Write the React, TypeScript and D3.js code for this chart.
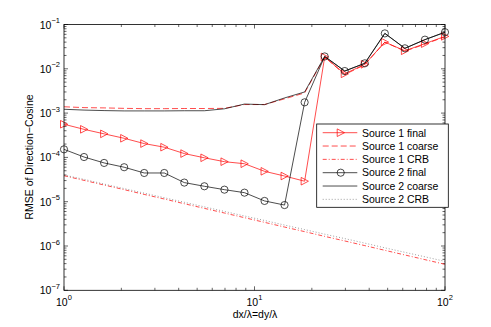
import React, { useEffect, useRef } from 'react';
import * as d3 from 'd3';

// grid spacing (logspace 1..100, 20 points)
const xVals = [1, 1.274, 1.624, 2.069, 2.637, 3.36, 4.281, 5.456, 6.952, 8.859, 11.29, 14.38, 18.33, 23.36, 29.76, 37.93, 48.33, 61.58, 78.48, 100];

const src1Final = [5.6e-4, 4.3e-4, 3.4e-4, 2.7e-4, 2.05e-4, 1.7e-4, 1.22e-4, 9.8e-5, 8.0e-5, 7.2e-5, 4.85e-5, 3.8e-5, 2.9e-5, 1.85e-2, 7.7e-3, 1.26e-2, 4.0e-2, 2.55e-2, 3.7e-2, 5.4e-2];
const src1Coarse = [1.39e-3, 1.33e-3, 1.31e-3, 1.28e-3, 1.26e-3, 1.26e-3, 1.27e-3, 1.27e-3, 1.28e-3, 1.56e-3, 1.56e-3, 2.1e-3, 2.85e-3, 1.85e-2, 7.4e-3, 1.24e-2, 4.0e-2, 2.5e-2, 3.6e-2, 5.3e-2];
const src1Crb = [3.86e-5, 3.03e-5, 2.38e-5, 1.87e-5, 1.46e-5, 1.15e-5, 9.0e-6, 7.07e-6, 5.55e-6, 4.36e-6, 3.42e-6, 2.68e-6, 2.11e-6, 1.65e-6, 1.3e-6, 1.02e-6, 7.99e-7, 6.27e-7, 4.92e-7, 3.86e-7];

const src2Final = [1.52e-4, 1.02e-4, 7.5e-5, 6.0e-5, 4.45e-5, 4.45e-5, 2.7e-5, 2.23e-5, 1.87e-5, 1.6e-5, 1.04e-5, 8.4e-6, 1.75e-3, 1.9e-2, 8.9e-3, 1.33e-2, 6.3e-2, 2.9e-2, 4.55e-2, 6.7e-2];
const src2Coarse = [1.22e-3, 1.17e-3, 1.14e-3, 1.12e-3, 1.12e-3, 1.12e-3, 1.13e-3, 1.13e-3, 1.25e-3, 1.6e-3, 1.55e-3, 2.2e-3, 3.0e-3, 1.9e-2, 8.9e-3, 1.33e-2, 6.3e-2, 2.9e-2, 4.55e-2, 6.7e-2];
const src2Crb = [4.0e-5, 3.2e-5, 2.5e-5, 1.98e-5, 1.56e-5, 1.23e-5, 9.7e-6, 7.65e-6, 6.03e-6, 4.76e-6, 3.77e-6, 2.97e-6, 2.35e-6, 1.85e-6, 1.47e-6, 1.16e-6, 9.1e-7, 7.2e-7, 5.7e-7, 4.5e-7];

const legendLabels = ['Source 1 final', 'Source 1 coarse', 'Source 1 CRB', 'Source 2 final', 'Source 2 coarse', 'Source 2 CRB'];

const App = () => {
  const ref = useRef<SVGSVGElement>(null);

  useEffect(() => {
    const svg = d3.select(ref.current);
    svg.selectAll('*').remove();

    const left = 64, right = 445, top = 24.5, bottom = 290.3;
    const x = d3.scaleLog().domain([1, 100]).range([left, right]);
    const y = d3.scaleLog().domain([1e-7, 1e-1]).range([bottom, top]);
    const font = 'Liberation Sans, Arial, Helvetica, sans-serif';

    const isMajor = (v: number) => Math.abs(Math.log10(v) - Math.round(Math.log10(v))) < 1e-6;

    // ticks
    const tg = svg.append('g').attr('stroke', '#000').attr('stroke-width', 0.6);
    x.ticks().forEach(v => {
      const len = isMajor(v) ? 4 : 2.5;
      tg.append('line').attr('x1', x(v)).attr('x2', x(v)).attr('y1', bottom).attr('y2', bottom - len);
      tg.append('line').attr('x1', x(v)).attr('x2', x(v)).attr('y1', top).attr('y2', top + len);
    });
    y.ticks().forEach(v => {
      const len = isMajor(v) ? 4 : 2.5;
      tg.append('line').attr('y1', y(v)).attr('y2', y(v)).attr('x1', left).attr('x2', left + len);
      tg.append('line').attr('y1', y(v)).attr('y2', y(v)).attr('x1', right).attr('x2', right - len);
    });

    // tick labels
    y.ticks().filter(isMajor).forEach(v => {
      const e = Math.round(Math.log10(v));
      const t = svg.append('text')
        .attr('x', 60).attr('y', y(v) + 4)
        .attr('text-anchor', 'end')
        .attr('font-family', font).attr('font-size', 10.5);
      t.append('tspan').text('10');
      t.append('tspan').attr('dy', -5.5).attr('font-size', 7.5).text(e < 0 ? '\u2212' + (-e) : String(e));
    });
    x.ticks().filter(isMajor).forEach(v => {
      const e = Math.round(Math.log10(v));
      const t = svg.append('text')
        .attr('x', x(v) - 8).attr('y', 305.5)
        .attr('font-family', font).attr('font-size', 10.5);
      t.append('tspan').text('10');
      t.append('tspan').attr('dy', -5.5).attr('font-size', 7.5).text(String(e));
    });

    svg.append('text')
      .attr('x', 255).attr('y', 318)
      .attr('text-anchor', 'middle')
      .attr('font-family', font).attr('font-size', 10.5)
      .text('dx/\u03bb=dy/\u03bb');
    svg.append('text')
      .attr('transform', 'translate(33,157) rotate(-90)')
      .attr('text-anchor', 'middle')
      .attr('font-family', font).attr('font-size', 10.5)
      .text('RMSE of Direction\u2212Cosine');

    const line = d3.line<number>().x((_, i) => x(xVals[i])).y(d => y(d));

    const series = [
      { data: src1Final, color: '#ff0000', dash: null, marker: 'tri' },
      { data: src1Coarse, color: '#ff0000', dash: '6,3', marker: null },
      { data: src1Crb, color: '#ff0000', dash: '4,2,1,2', marker: null },
      { data: src2Final, color: '#000000', dash: null, marker: 'circ' },
      { data: src2Coarse, color: '#000000', dash: null, marker: null },
      { data: src2Crb, color: '#777777', dash: '1,2', marker: null },
    ];

    const drawMarker = (g: any, m: string, cx: number, cy: number, color: string) => {
      if (m === 'tri') {
        g.append('path')
          .attr('d', `M${cx - 3.5},${cy - 3.8}L${cx + 3.8},${cy}L${cx - 3.5},${cy + 3.8}Z`)
          .attr('fill', 'none').attr('stroke', color).attr('stroke-width', 0.7);
      } else if (m === 'circ') {
        g.append('circle').attr('cx', cx).attr('cy', cy).attr('r', 3.6)
          .attr('fill', 'none').attr('stroke', color).attr('stroke-width', 0.7);
      }
    };

    const pg = svg.append('g');
    series.forEach(s => {
      const p = pg.append('path')
        .attr('d', line(s.data))
        .attr('fill', 'none')
        .attr('stroke', s.color)
        .attr('stroke-width', 0.7);
      if (s.dash) p.attr('stroke-dasharray', s.dash);
      if (s.marker) s.data.forEach((d, i) => drawMarker(pg, s.marker as string, x(xVals[i]), y(d), s.color));
    });

    // axes box
    svg.append('rect')
      .attr('x', left).attr('y', top)
      .attr('width', right - left).attr('height', bottom - top)
      .attr('fill', 'none').attr('stroke', '#000').attr('stroke-width', 0.8);

    // legend
    const lx = 316.7, ly = 124, lw = 131.6, lh = 83.3;
    const lg = svg.append('g');
    lg.append('rect').attr('x', lx).attr('y', ly).attr('width', lw).attr('height', lh)
      .attr('fill', '#fff').attr('stroke', '#000').attr('stroke-width', 0.8);
    series.forEach((s, i) => {
      const cy = 132.7 + i * 13.33;
      const l = lg.append('line').attr('x1', 322.7).attr('x2', 357.3).attr('y1', cy).attr('y2', cy)
        .attr('stroke', s.color).attr('stroke-width', 0.7);
      if (s.dash) l.attr('stroke-dasharray', s.dash);
      if (s.marker) drawMarker(lg, s.marker, 340.7, cy, s.color);
      lg.append('text').attr('x', 362).attr('y', cy + 3.8)
        .attr('font-family', font).attr('font-size', 10.5)
        .text(legendLabels[i]);
    });
  });

  return <svg ref={ref} width={491} height={327} style={{ position: 'absolute', left: 0, top: 0, background: '#fff' }} />;
};

export default App;
